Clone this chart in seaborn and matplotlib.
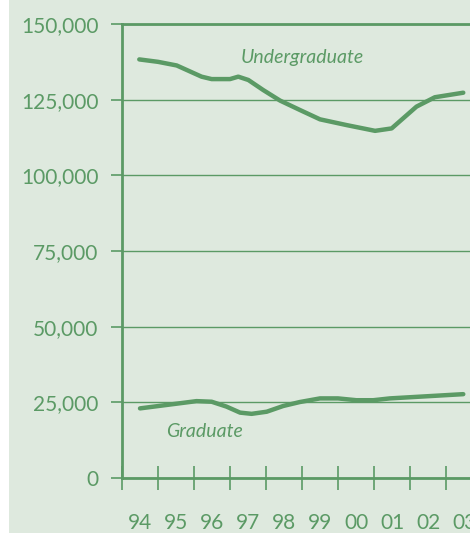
import matplotlib
matplotlib.use("Agg")
import matplotlib.pyplot as plt
import matplotlib.patches as patches
import pandas as pd
import seaborn as sns

# Enrollment readings taken off the chart (x in fractional years)
ug_years = [1994.48, 1995.0, 1995.52, 1996.21, 1996.49, 1997.0, 1997.23, 1997.51,
            1997.92, 1998.39, 1998.94, 1999.5, 2000.24, 2001.03, 2001.49, 2002.18,
            2002.69, 2003.48]
ug_values = [138300, 137500, 136300, 132600, 131800, 131800, 132600, 131500,
             128200, 124700, 121600, 118500, 116600, 114700, 115500, 122700,
             125800, 127300]

grad_years = [1994.5, 1996.07, 1996.49, 1996.9, 1997.28, 1997.6, 1998.02, 1998.48,
              1998.94, 1999.5, 2000.0, 2000.51, 2000.98, 2001.44, 2003.48]
grad_values = [23000, 25400, 25200, 23600, 21600, 21200, 21900, 23800,
               25100, 26300, 26300, 25700, 25700, 26300, 27700]

year_ticks = list(range(1994, 2004))
year_labels = ["94", "95", "96", "97", "98", "99", "00", "01", "02", "03"]
y_ticks = [0, 25000, 50000, 75000, 100000, 125000, 150000]

green = "#5b9a65"
bg = "#dee9de"

df = pd.concat([
    pd.DataFrame({"year": ug_years, "students": ug_values, "level": "Undergraduate"}),
    pd.DataFrame({"year": grad_years, "students": grad_values, "level": "Graduate"}),
])

sns.set_style("white")
plt.rcParams["font.family"] = ["Lato", "DejaVu Sans"]

fig = plt.figure(figsize=(4.7, 5.34), dpi=100)
fig.patch.set_facecolor("white")
# green panel behind the chart, leaving a thin white strip at the left
fig.patches.append(patches.Rectangle((9 / 470, 1 / 534), 1, 1, transform=fig.transFigure,
                                     facecolor=bg, edgecolor="none", zorder=-10))

ax = fig.add_axes([122 / 470, 56 / 534, 348 / 470, 454 / 534])
ax.set_facecolor(bg)

sns.lineplot(data=df, x="year", y="students", hue="level", units="level",
             estimator=None, palette=[green, green], linewidth=3.2,
             legend=False, ax=ax, zorder=3)

ax.set_xlim(1994, 1994 + 348 / 36)
ax.set_ylim(0, 150000)

# y axis
ax.set_yticks(y_ticks)
ax.set_yticklabels([f"{v:,}" for v in y_ticks])
ax.tick_params(axis="y", left=True, direction="out", length=8, width=1.2, color=green,
               labelcolor=green, labelsize=15, pad=9)
ax.yaxis.grid(True, color=green, linewidth=1.0)
ax.set_axisbelow(True)

# x axis: ticks on year boundaries, labels at mid-year
ax.set_xticks(year_ticks)
ax.set_xticklabels([])
ax.set_xticks([y + 0.5 for y in year_ticks], minor=True)
ax.set_xticklabels(year_labels, minor=True)
ax.tick_params(axis="x", which="major", bottom=True, direction="inout", length=17,
               width=1.2, color=green)
ax.tick_params(axis="x", which="minor", bottom=True, length=0, labelcolor=green,
               labelsize=15, pad=25)

for side in ["left", "bottom", "top"]:
    ax.spines[side].set_color(green)
    ax.spines[side].set_linewidth(2)
ax.spines["right"].set_visible(False)

ax.set_xlabel("")
ax.set_ylabel("")

ax.text(1999.0, 138800, "Undergraduate", color=green, fontsize=14, style="italic",
        ha="center", va="center")
ax.text(1996.3, 15400, "Graduate", color=green, fontsize=14, style="italic",
        ha="center", va="center")

fig.savefig("out.png", dpi=100, facecolor=fig.get_facecolor())
